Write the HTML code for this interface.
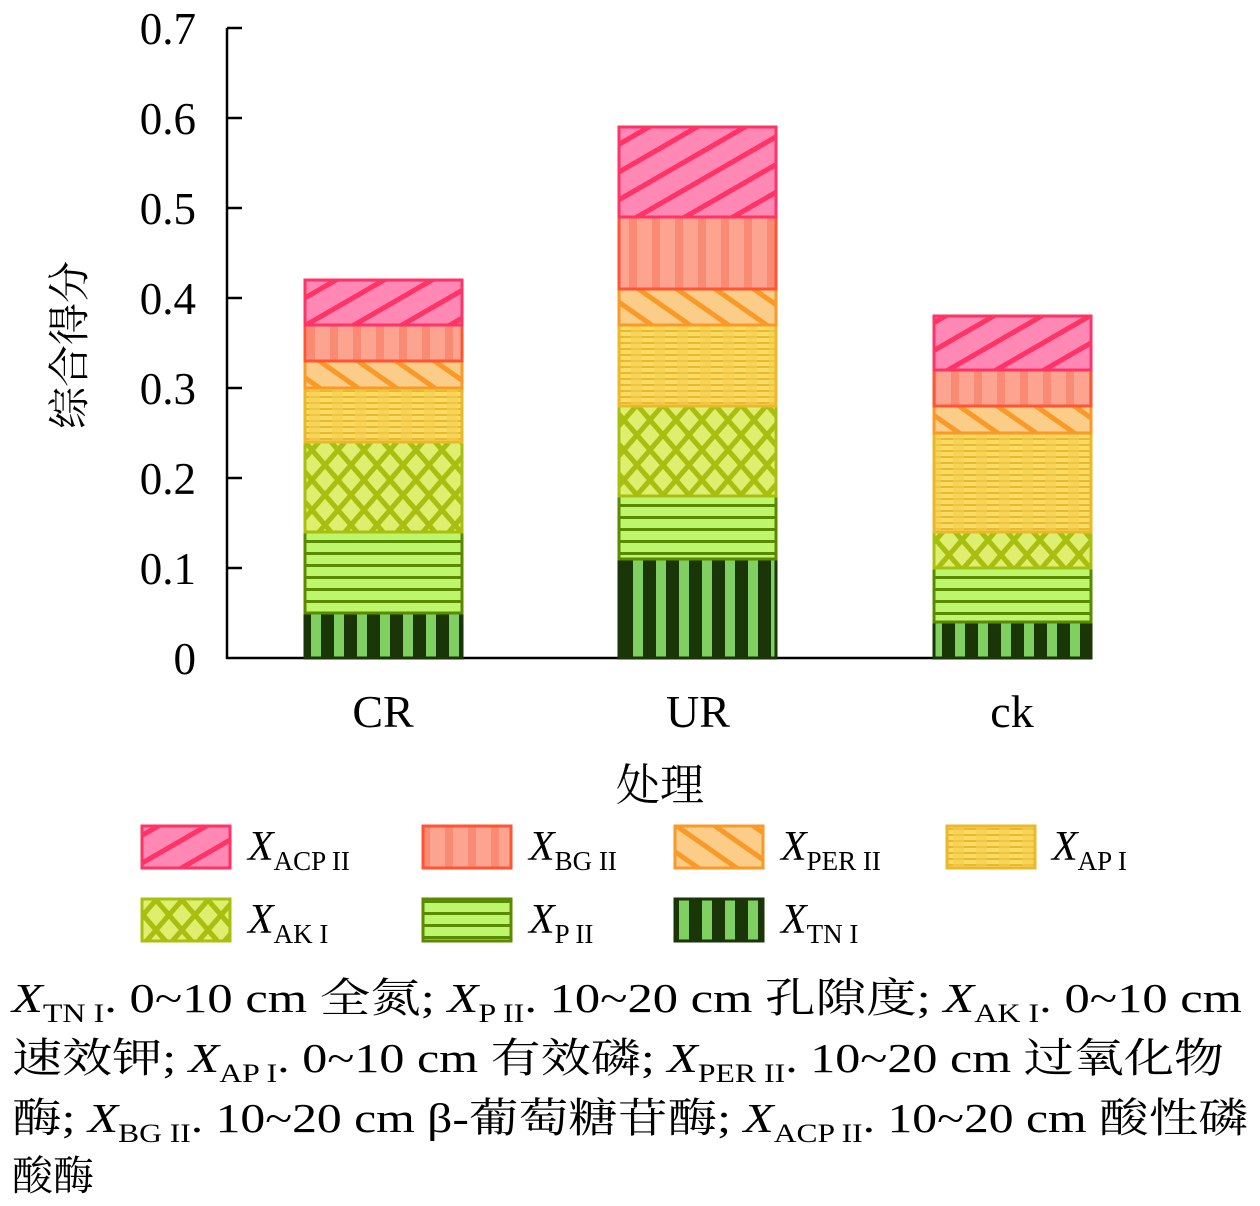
<!DOCTYPE html>
<html><head><meta charset="utf-8"><style>
body{margin:0;background:#fff;}
svg text{font-family:"Liberation Serif","Noto Serif CJK SC",serif;}
</style></head><body>
<svg width="1260" height="1201" viewBox="0 0 1260 1201" xmlns="http://www.w3.org/2000/svg">
<defs>
<pattern id="acp" width="24" height="24" patternUnits="userSpaceOnUse" patternTransform="rotate(-30)">
<rect width="24" height="24" fill="#ff88b4"/><rect width="24" height="5" fill="#ff3366"/></pattern>
<pattern id="bg" width="23" height="8" patternUnits="userSpaceOnUse">
<rect width="23" height="8" fill="#fca48f"/><rect x="8" width="8" height="8" fill="#f87f68" opacity="0.7"/></pattern>
<pattern id="per" width="22" height="22" patternUnits="userSpaceOnUse" patternTransform="rotate(35)">
<rect width="22" height="22" fill="#fccd88"/><rect width="22" height="5" fill="#f99a28"/></pattern>
<pattern id="ap" width="23" height="6" patternUnits="userSpaceOnUse">
<rect width="23" height="6" fill="#f8dc66"/><rect width="23" height="2" fill="#eab82a"/><rect x="10" width="11" height="6" fill="#f3cf50" opacity="0.6"/></pattern>
<pattern id="ak" width="26" height="30" patternUnits="userSpaceOnUse">
<rect width="26" height="30" fill="#deef70"/><path d="M0 0L26 30M26 0L0 30" stroke="#a8bf10" stroke-width="5"/></pattern>
<pattern id="p" width="10" height="12" patternUnits="userSpaceOnUse">
<rect width="10" height="12" fill="#bdf56c"/><rect width="10" height="3" fill="#5a8a00"/></pattern>
<pattern id="tn" width="23" height="10" patternUnits="userSpaceOnUse">
<rect width="23" height="10" fill="#1a3508"/><rect x="12" width="10" height="10" fill="#7fd060"/></pattern>
</defs>

<g stroke="#000" stroke-width="2.5" fill="none">
<line x1="227" y1="28" x2="227" y2="659"/>
<line x1="226" y1="658" x2="1092" y2="658"/>
<line x1="227" y1="28" x2="242" y2="28"/><line x1="227" y1="118" x2="242" y2="118"/>
<line x1="227" y1="208" x2="242" y2="208"/><line x1="227" y1="298" x2="242" y2="298"/>
<line x1="227" y1="388" x2="242" y2="388"/><line x1="227" y1="478" x2="242" y2="478"/>
<line x1="227" y1="568" x2="242" y2="568"/>
</g>
<g font-size="45" text-anchor="end">
<text x="196" y="44">0.7</text><text x="196" y="134">0.6</text><text x="196" y="224">0.5</text>
<text x="196" y="314">0.4</text><text x="196" y="404">0.3</text><text x="196" y="494">0.2</text>
<text x="196" y="584">0.1</text><text x="196" y="674">0</text>
</g>
<text transform="translate(84,345) rotate(-90)" font-size="42" text-anchor="middle">综合得分</text>
<g font-size="46" text-anchor="middle">
<text x="383" y="727">CR</text><text x="698" y="727">UR</text><text x="1012" y="727">ck</text>
<text x="660" y="800" font-size="44">处理</text>
</g>

<g stroke-width="3">
<rect x="305" y="613" width="157" height="45" fill="url(#tn)" stroke="#1a3508"/>
<rect x="305" y="532" width="157" height="81" fill="url(#p)" stroke="#5a8a00"/>
<rect x="305" y="442" width="157" height="90" fill="url(#ak)" stroke="#a8bf10"/>
<rect x="305" y="388" width="157" height="54" fill="url(#ap)" stroke="#eab82a"/>
<rect x="305" y="361" width="157" height="27" fill="url(#per)" stroke="#f99a28"/>
<rect x="305" y="325" width="157" height="36" fill="url(#bg)" stroke="#ff5533"/>
<rect x="305" y="280" width="157" height="45" fill="url(#acp)" stroke="#ff3366"/>
<rect x="619" y="559" width="157" height="99" fill="url(#tn)" stroke="#1a3508"/>
<rect x="619" y="496" width="157" height="63" fill="url(#p)" stroke="#5a8a00"/>
<rect x="619" y="406" width="157" height="90" fill="url(#ak)" stroke="#a8bf10"/>
<rect x="619" y="325" width="157" height="81" fill="url(#ap)" stroke="#eab82a"/>
<rect x="619" y="289" width="157" height="36" fill="url(#per)" stroke="#f99a28"/>
<rect x="619" y="217" width="157" height="72" fill="url(#bg)" stroke="#ff5533"/>
<rect x="619" y="127" width="157" height="90" fill="url(#acp)" stroke="#ff3366"/>
<rect x="934" y="622" width="157" height="36" fill="url(#tn)" stroke="#1a3508"/>
<rect x="934" y="568" width="157" height="54" fill="url(#p)" stroke="#5a8a00"/>
<rect x="934" y="532" width="157" height="36" fill="url(#ak)" stroke="#a8bf10"/>
<rect x="934" y="433" width="157" height="99" fill="url(#ap)" stroke="#eab82a"/>
<rect x="934" y="406" width="157" height="27" fill="url(#per)" stroke="#f99a28"/>
<rect x="934" y="370" width="157" height="36" fill="url(#bg)" stroke="#ff5533"/>
<rect x="934" y="316" width="157" height="54" fill="url(#acp)" stroke="#ff3366"/>
</g>

<g stroke-width="3">
<rect x="142" y="826" width="88" height="42" fill="url(#acp)" stroke="#ff3366"/>
<rect x="423" y="826" width="88" height="42" fill="url(#bg)" stroke="#ff5533"/>
<rect x="675" y="826" width="88" height="42" fill="url(#per)" stroke="#f99a28"/>
<rect x="947" y="826" width="88" height="42" fill="url(#ap)" stroke="#eab82a"/>
<rect x="142" y="899" width="88" height="42" fill="url(#ak)" stroke="#a8bf10"/>
<rect x="423" y="899" width="88" height="42" fill="url(#p)" stroke="#5a8a00"/>
<rect x="675" y="899" width="88" height="42" fill="url(#tn)" stroke="#1a3508"/>
</g>
<g font-size="42">
<text x="248" y="860"><tspan font-style="italic">X</tspan><tspan font-size="27" dy="10">ACP II</tspan></text>
<text x="529" y="860"><tspan font-style="italic">X</tspan><tspan font-size="27" dy="10">BG II</tspan></text>
<text x="781" y="860"><tspan font-style="italic">X</tspan><tspan font-size="27" dy="10">PER II</tspan></text>
<text x="1052" y="860"><tspan font-style="italic">X</tspan><tspan font-size="27" dy="10">AP I</tspan></text>
<text x="248" y="933"><tspan font-style="italic">X</tspan><tspan font-size="27" dy="10">AK I</tspan></text>
<text x="529" y="933"><tspan font-style="italic">X</tspan><tspan font-size="27" dy="10">P II</tspan></text>
<text x="781" y="933"><tspan font-style="italic">X</tspan><tspan font-size="27" dy="10">TN I</tspan></text>
</g>

<g font-size="41">
<text x="12" y="1012" textLength="1230" lengthAdjust="spacingAndGlyphs"><tspan font-style="italic">X</tspan><tspan font-size="26" dy="10">TN I</tspan><tspan dy="-10">. 0~10 cm 全氮; </tspan><tspan font-style="italic">X</tspan><tspan font-size="26" dy="10">P II</tspan><tspan dy="-10">. 10~20 cm 孔隙度; </tspan><tspan font-style="italic">X</tspan><tspan font-size="26" dy="10">AK I</tspan><tspan dy="-10">. 0~10 cm</tspan></text>
<text x="12" y="1072" textLength="1212" lengthAdjust="spacingAndGlyphs">速效钾; <tspan font-style="italic">X</tspan><tspan font-size="26" dy="10">AP I</tspan><tspan dy="-10">. 0~10 cm 有效磷; </tspan><tspan font-style="italic">X</tspan><tspan font-size="26" dy="10">PER II</tspan><tspan dy="-10">. 10~20 cm 过氧化物</tspan></text>
<text x="12" y="1132" textLength="1236" lengthAdjust="spacingAndGlyphs">酶; <tspan font-style="italic">X</tspan><tspan font-size="26" dy="10">BG II</tspan><tspan dy="-10">. 10~20 cm β-葡萄糖苷酶; </tspan><tspan font-style="italic">X</tspan><tspan font-size="26" dy="10">ACP II</tspan><tspan dy="-10">. 10~20 cm 酸性磷</tspan></text>
<text x="12" y="1190">酸酶</text>
</g>
</svg>
</body></html>
